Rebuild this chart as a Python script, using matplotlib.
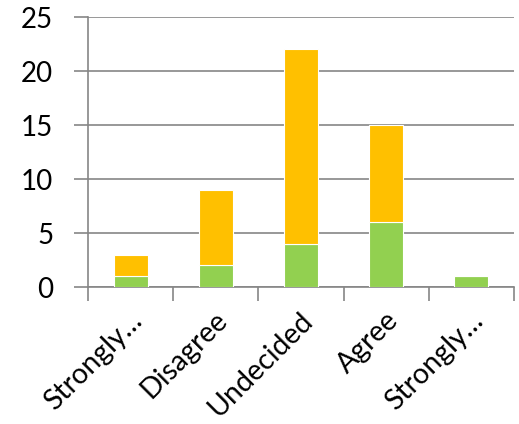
import matplotlib.pyplot as plt
import matplotlib.transforms as mtransforms
import numpy as np

plt.rcParams['font.family'] = ['Lato', 'DejaVu Sans']

categories = ['Strongly…', 'Disagree', 'Undecided', 'Agree', 'Strongly…']
green_vals = [1, 2, 4, 6, 1]
orange_vals = [2, 7, 18, 9, 0]

GREEN = '#92D050'
ORANGE = '#FFC000'
GRID = '#868686'

fig = plt.figure(figsize=(5.19, 4.24), dpi=100)
ax = fig.add_axes([88 / 519, 1 - 287 / 424, 426 / 519, 270 / 424])

x = np.arange(len(categories))
ax.bar(x, green_vals, width=0.4, color=GREEN, edgecolor='white', linewidth=0.8, zorder=3)
ax.bar(x, orange_vals, width=0.4, bottom=green_vals, color=ORANGE,
       edgecolor='white', linewidth=0.8, zorder=3)

ax.set_xlim(-0.5, len(categories) - 0.5)
ax.set_ylim(0, 25)
ax.set_yticks(range(0, 26, 5))
ax.yaxis.grid(True, color=GRID, linewidth=1.2, zorder=0)

# tick marks at the category boundaries
ax.set_xticks(np.arange(-0.5, len(categories), 1.0))
ax.set_xticklabels([])
ax.tick_params(axis='x', length=10, color=GRID, width=1.2)
ax.tick_params(axis='y', length=10, color=GRID, width=1.2, labelsize=20, pad=15)

# rotated category names, shifted a bit right of each bar center
shift = mtransforms.ScaledTranslation(17 / 100, -20 / 100, fig.dpi_scale_trans)
for xi, name in zip(x, categories):
    ax.text(xi, 0, name, rotation=45, ha='right', va='top', fontsize=20.5,
            transform=ax.get_xaxis_transform() + shift)

for side in ['top', 'right']:
    ax.spines[side].set_visible(False)
for side in ['left', 'bottom']:
    ax.spines[side].set_color(GRID)
    ax.spines[side].set_linewidth(1.2)

fig.savefig('out.png', dpi=100)
